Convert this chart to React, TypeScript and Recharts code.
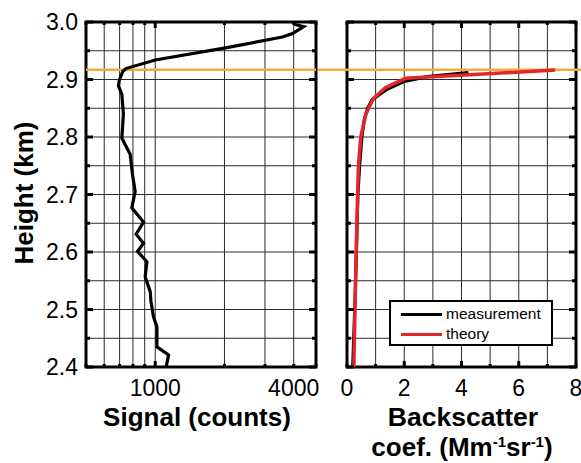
import React from 'react';
import { LineChart, Line, XAxis, YAxis, CartesianGrid, ReferenceLine, ReferenceArea } from 'recharts';

// ---------- data ----------
const heightTicks = [2.4, 2.45, 2.5, 2.55, 2.6, 2.65, 2.7, 2.75, 2.8, 2.85, 2.9, 2.95, 3.0];
const signalTicks = [500, 600, 700, 800, 900, 1000, 2000, 3000, 4000, 5000];
const signalLabels = [1000, 4000];
const backscatterTicks = [0, 1, 2, 3, 4, 5, 6, 7, 8];
const backscatterLabels = [0, 2, 4, 6, 8];
const layerTop = 2.917;

const signalHeights = [2.401, 2.421, 2.435, 2.47, 2.487, 2.514, 2.531, 2.557, 2.583, 2.601, 2.615, 2.631, 2.652, 2.677, 2.705, 2.737, 2.77, 2.798, 2.84, 2.874, 2.889, 2.899, 2.914, 2.919, 2.934, 2.955, 2.974, 2.98, 2.992, 2.996];
const signalCounts = [1117, 1143, 1017, 1017, 983, 958, 951, 904, 920, 837, 889, 826, 889, 791, 818, 795, 778, 716, 727, 716, 692, 698, 723, 745, 1000, 2021, 3574, 3954, 4416, 4018];

const measHeights = [2.4, 2.5, 2.6, 2.7, 2.75, 2.8, 2.83, 2.85, 2.865, 2.883, 2.896, 2.905, 2.912];
const measValues = [0.2, 0.27, 0.33, 0.38, 0.44, 0.52, 0.6, 0.72, 0.88, 1.4, 1.97, 2.8, 4.24];

const theoryHeights = [2.4, 2.5, 2.6, 2.7, 2.75, 2.8, 2.84, 2.867, 2.886, 2.902, 2.9165];
const theoryValues = [0.24, 0.28, 0.32, 0.37, 0.4, 0.48, 0.66, 0.92, 1.35, 2.05, 7.27];

const seriesNames = ['measurement', 'theory'];
const seriesColors = ['#000000', '#e3262b'];

const signalData = signalHeights.map((h, i) => ({ h, s: signalCounts[i] }));
const measData = measHeights.map((h, i) => ({ h, v: measValues[i] }));
const theoryData = theoryHeights.map((h, i) => ({ h, v: theoryValues[i] }));

// ---------- styles ----------
const FONT = '"Liberation Sans", Arial, sans-serif';
const ORANGE = '#f5a93a';
const GRID = '#2a2a2a';
const TICK_FONT = 23;

const isMajorH = (v: number) => Math.abs(v * 10 - Math.round(v * 10)) < 1e-6;

const LeftYTick = (props: any) => {
  const { x, y, payload } = props;
  const v = payload.value;
  const major = isMajorH(v);
  return (
    <g>
      <line x1={x} y1={y} x2={x + (major ? 7 : 4)} y2={y} stroke="#000" strokeWidth={3} />
      {major && (
        <text x={x - 8} y={y} dy="0.36em" textAnchor="end" fontSize={TICK_FONT} fontFamily={FONT} fill="#000">
          {v.toFixed(1)}
        </text>
      )}
    </g>
  );
};

const LeftYTickNoLabel = (props: any) => {
  const { x, y, payload } = props;
  const major = isMajorH(payload.value);
  return <line x1={x} y1={y} x2={x + (major ? 7 : 4)} y2={y} stroke="#000" strokeWidth={3} />;
};

const RightYTick = (props: any) => {
  const { x, y, payload } = props;
  const major = isMajorH(payload.value);
  return <line x1={x} y1={y} x2={x - (major ? 7 : 4)} y2={y} stroke="#000" strokeWidth={3} />;
};

const makeBottomTick = (labels: number[], majors: number[]) => (props: any) => {
  const { x, y, payload } = props;
  const v = payload.value;
  const major = majors.includes(v);
  return (
    <g>
      <line x1={x} y1={y} x2={x} y2={y - (major ? 6 : 3)} stroke="#000" strokeWidth={3} />
      {labels.includes(v) && (
        <text x={x} y={y + 29} textAnchor="middle" fontSize={TICK_FONT} fontFamily={FONT} fill="#000">
          {v}
        </text>
      )}
    </g>
  );
};

const makeTopTick = (majors: number[]) => (props: any) => {
  const { x, y, payload } = props;
  const major = majors.includes(payload.value);
  return <line x1={x} y1={y} x2={x} y2={y + (major ? 6 : 3)} stroke="#000" strokeWidth={3} />;
};

const SignalBottomTick = makeBottomTick(signalLabels, [1000]);
const SignalTopTick = makeTopTick([1000]);
const BsBottomTick = makeBottomTick(backscatterLabels, [2, 4, 6]);
const BsTopTick = makeTopTick([2, 4, 6]);

const titleStyle: React.CSSProperties = {
  position: 'absolute',
  fontFamily: FONT,
  fontWeight: 'bold',
  fontSize: 26,
  color: '#000',
  whiteSpace: 'nowrap',
  lineHeight: 1,
};

export default function App() {
  return (
    <div style={{ position: 'absolute', left: 0, top: 0, width: 581, height: 463, background: '#fff', overflow: 'hidden' }}>
      {/* left panel */}
      <div style={{ position: 'absolute', left: 0, top: 0 }}>
        <LineChart width={320} height={463} layout="vertical" data={signalData} margin={{ top: 12, right: 3, bottom: 0, left: 0 }}>
          <CartesianGrid stroke={GRID} strokeWidth={1} />
          <XAxis type="number" dataKey="s" scale="log" domain={[500, 5000]} ticks={signalTicks} allowDataOverflow
            orientation="bottom" height={96} axisLine={false} tickLine={false} tickSize={0} tickMargin={0} tick={<SignalBottomTick />} interval={0} />
          <XAxis xAxisId="top" type="number" dataKey="s" scale="log" domain={[500, 5000]} ticks={signalTicks} allowDataOverflow
            orientation="top" height={10} axisLine={false} tickLine={false} tickSize={0} tickMargin={0} tick={<SignalTopTick />} interval={0} />
          <YAxis type="number" dataKey="h" domain={[2.4, 3.0]} ticks={heightTicks} allowDataOverflow width={86} reversed
            axisLine={false} tickLine={false} tickSize={0} tickMargin={0} tick={<LeftYTick />} interval={0} />
          <YAxis yAxisId="right" orientation="right" type="number" dataKey="h" domain={[2.4, 3.0]} ticks={heightTicks} allowDataOverflow width={1} reversed
            axisLine={false} tickLine={false} tickSize={0} tickMargin={0} tick={<RightYTick />} interval={0} />
          <ReferenceLine y={layerTop} stroke={ORANGE} strokeWidth={2.5} />
          <Line dataKey="s" stroke="#000" strokeWidth={3.2} dot={false} activeDot={false} isAnimationActive={false} />
          <ReferenceArea x1={500} x2={5000} y1={2.4} y2={3.0} fill="none" fillOpacity={0} stroke="#000" strokeWidth={3} ifOverflow="visible" />
        </LineChart>
      </div>

      {/* right panel */}
      <div style={{ position: 'absolute', left: 316, top: 0 }}>
        <LineChart width={265} height={463} layout="vertical" margin={{ top: 12, right: 4, bottom: 0, left: 0 }}>
          <CartesianGrid stroke={GRID} strokeWidth={1} />
          <XAxis type="number" dataKey="v" domain={[0, 8]} ticks={backscatterTicks} allowDataOverflow
            orientation="bottom" height={96} axisLine={false} tickLine={false} tickSize={0} tickMargin={0} tick={<BsBottomTick />} interval={0} />
          <XAxis xAxisId="top" type="number" dataKey="v" domain={[0, 8]} ticks={backscatterTicks} allowDataOverflow
            orientation="top" height={10} axisLine={false} tickLine={false} tickSize={0} tickMargin={0} tick={<BsTopTick />} interval={0} />
          <YAxis type="number" dataKey="h" domain={[2.4, 3.0]} ticks={heightTicks} allowDataOverflow width={31} reversed
            axisLine={false} tickLine={false} tickSize={0} tickMargin={0} tick={<LeftYTickNoLabel />} interval={0} />
          <YAxis yAxisId="right" orientation="right" type="number" dataKey="h" domain={[2.4, 3.0]} ticks={heightTicks} allowDataOverflow width={1} reversed
            axisLine={false} tickLine={false} tickSize={0} tickMargin={0} tick={<RightYTick />} interval={0} />
          <ReferenceLine y={layerTop} stroke={ORANGE} strokeWidth={2.5}
            shape={(p: any) => <line x1={p.x1 - 29} y1={p.y1} x2={p.x2 + 6} y2={p.y2} stroke={ORANGE} strokeWidth={2.5} />} />
          <Line data={measData} dataKey="v" name={seriesNames[0]} stroke={seriesColors[0]} strokeWidth={3.2} dot={false} activeDot={false} isAnimationActive={false} />
          <Line data={theoryData} dataKey="v" name={seriesNames[1]} stroke={seriesColors[1]} strokeWidth={3.5} dot={false} activeDot={false} isAnimationActive={false} />
          <ReferenceArea x1={0} x2={8} y1={2.4} y2={3.0} fill="none" fillOpacity={0} stroke="#000" strokeWidth={3} ifOverflow="visible" />
        </LineChart>
      </div>

      {/* legend */}
      <div style={{ position: 'absolute', left: 389, top: 300, width: 164, height: 46, boxSizing: 'border-box', border: '2px solid #000', background: '#fff' }}>
        {seriesNames.map((name, i) => (
          <div key={name} style={{ position: 'absolute', left: 10, top: 3 + i * 20, height: 18, display: 'flex', alignItems: 'center' }}>
            <div style={{ width: 41, height: 3, background: seriesColors[i] }} />
            <span style={{ marginLeft: 4, fontFamily: FONT, fontSize: 15.5, color: '#000', lineHeight: 1 }}>{name}</span>
          </div>
        ))}
      </div>

      {/* axis titles */}
      <div style={{ ...titleStyle, left: 24, top: 193, transform: 'translate(-50%, -50%) rotate(-90deg)' }}>Height (km)</div>
      <div style={{ ...titleStyle, left: 197, top: 404, transform: 'translateX(-50%)' }}>Signal (counts)</div>
      <div style={{ ...titleStyle, left: 463, top: 404, transform: 'translateX(-50%)', fontSize: 26.5 }}>
        Backscatter
      </div>
      <div style={{ ...titleStyle, left: 462, top: 434, transform: 'translateX(-50%)' }}>
        coef. (Mm<sup style={{ fontSize: 15, verticalAlign: 'top', lineHeight: 1 }}>-1</sup>sr<sup style={{ fontSize: 15, verticalAlign: 'top', lineHeight: 1 }}>-1</sup>)
      </div>
    </div>
  );
}
